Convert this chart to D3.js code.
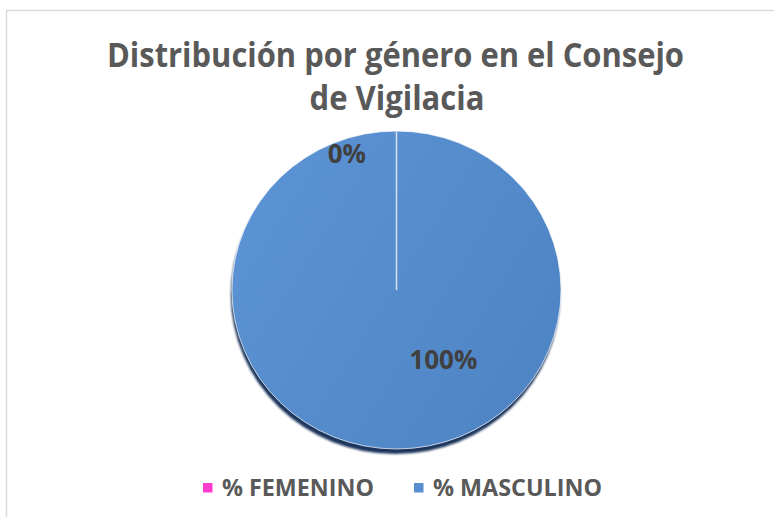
<!DOCTYPE html>
<html>
<head>
<meta charset="utf-8">
<script src="https://cdn.jsdelivr.net/npm/d3@7"></script>
<style>
  html, body { margin: 0; padding: 0; background: #fff; }
  svg { display: block; font-family: "Open Sans", "Noto Sans", sans-serif; }
</style>
</head>
<body>
<svg id="chart" width="774" height="517"></svg>
<script>
// chart data
const titleLines = ["Distribución por género en el Consejo", "de Vigilacia"];
const categories = ["% FEMENINO", "% MASCULINO"];
const values = [0, 100];
const colors = ["#ff3ccd", "#5a8ecf"];

const svg = d3.select("#chart"),
    width = +svg.attr("width"),
    height = +svg.attr("height");

// chart area border (only top / left visible in the crop)
svg.append("rect")
    .attr("x", 6.5).attr("y", 10.5)
    .attr("width", width + 20).attr("height", height + 20)
    .attr("fill", "#fff")
    .attr("stroke", "#d9d9d9")
    .attr("stroke-width", 1.5);

// title
const title = svg.append("g").attr("fill", "#595959").attr("font-weight", "bold")
    .attr("text-anchor", "middle");
title.append("text")
    .attr("x", 395.5).attr("y", 67)
    .attr("font-size", 34)
    .attr("textLength", 577).attr("lengthAdjust", "spacingAndGlyphs")
    .text(titleLines[0]);
title.append("text")
    .attr("x", 397).attr("y", 110)
    .attr("font-size", 34)
    .attr("textLength", 175).attr("lengthAdjust", "spacingAndGlyphs")
    .text(titleLines[1]);

// pie
const cx = 396.5, cy = 290, rx = 164.5, ry = 159;

const defs = svg.append("defs");
const grad = defs.append("linearGradient")
    .attr("id", "pieFill")
    .attr("x1", "0%").attr("y1", "20%").attr("x2", "100%").attr("y2", "80%");
grad.append("stop").attr("offset", "0%").attr("stop-color", "#5c93d4");
grad.append("stop").attr("offset", "100%").attr("stop-color", "#4e84c4");

defs.append("filter").attr("id", "blur")
    .append("feGaussianBlur").attr("stdDeviation", 1);

const pie = d3.pie().sort(null).value(d => d)(values);
const arc = d3.arc().innerRadius(0).outerRadius(ry);

const pieG = svg.append("g")
    .attr("transform", `translate(${cx},${cy}) scale(${rx / ry},1)`);

// bottom shadow
pieG.append("path")
    .attr("d", d3.arc().innerRadius(0).outerRadius(ry)({startAngle: 0, endAngle: 2 * Math.PI}))
    .attr("transform", "translate(-1,5)")
    .attr("fill", "#1c365c")
    .attr("filter", "url(#blur)");

pieG.selectAll("path.slice")
    .data(pie)
    .enter().append("path")
    .attr("class", "slice")
    .attr("d", arc)
    .attr("fill", (d, i) => i === 1 ? "url(#pieFill)" : colors[i])
    .attr("stroke", "#fff")
    .attr("stroke-opacity", 0.7)
    .attr("stroke-width", 1)
    .attr("vector-effect", "non-scaling-stroke");

// separator line from the zero slice
pieG.append("line")
    .attr("x1", 0).attr("y1", 0).attr("x2", 0).attr("y2", -ry)
    .attr("stroke", "#d7e3f3")
    .attr("stroke-width", 1.5)
    .attr("vector-effect", "non-scaling-stroke");

// data labels (Excel places them around the slice, shifted)
const labelPos = [
    {angle: -0.35, r: 145},
    {angle: 2.55, r: 84}
];
svg.append("g").selectAll("text")
    .data(pie)
    .enter().append("text")
    .attr("x", (d, i) => cx + labelPos[i].r * Math.sin(labelPos[i].angle))
    .attr("y", (d, i) => cy - labelPos[i].r * Math.cos(labelPos[i].angle) + 9)
    .attr("text-anchor", "middle")
    .attr("fill", "#404040")
    .attr("font-weight", "bold")
    .attr("font-size", 26)
    .text(d => d3.format(".0%")(d.data / d3.sum(values)));

// legend
const legendX = [203, 414];
const legend = svg.append("g").selectAll("g")
    .data(categories)
    .enter().append("g")
    .attr("transform", (d, i) => `translate(${legendX[i]},483)`);
legend.append("rect")
    .attr("width", 9.5).attr("height", 9.5)
    .attr("fill", (d, i) => colors[i]);
legend.append("text")
    .attr("x", 19).attr("y", 12.5)
    .attr("fill", "#595959")
    .attr("font-weight", "bold")
    .attr("font-size", 24)
    .attr("textLength", (d, i) => i === 0 ? 152 : 169)
    .attr("lengthAdjust", "spacingAndGlyphs")
    .text(d => d);
</script>
</body>
</html>
